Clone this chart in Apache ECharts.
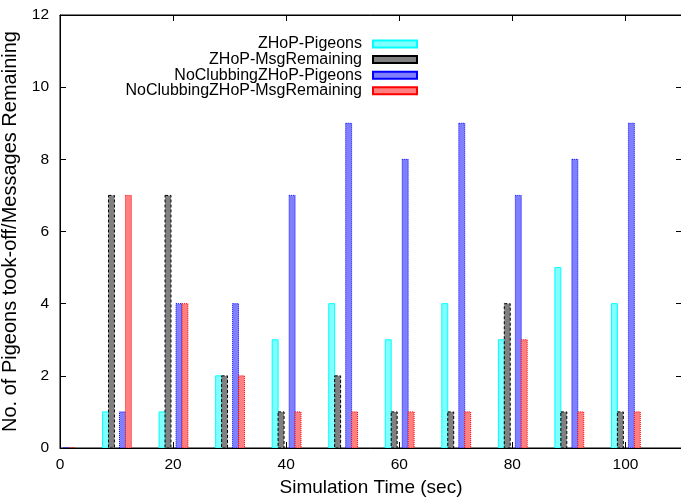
<!DOCTYPE html>
<html>
<head>
<meta charset="utf-8">
<script src="https://cdn.jsdelivr.net/npm/echarts@6/dist/echarts.min.js"></script>
<style>html,body{margin:0;padding:0;background:#fff}#c{width:681px;height:501px}</style>
</head>
<body>
<div id="c"></div>
<script>
// Data
var times = [0, 10, 20, 30, 40, 50, 60, 70, 80, 90, 100];
var zhopPigeons = [0, 1, 1, 2, 3, 4, 3, 4, 3, 5, 4];
var zhopMsgRemaining = [0, 7, 7, 2, 1, 2, 1, 1, 4, 1, 1];
var noClubPigeons = [0, 1, 4, 4, 7, 9, 8, 9, 7, 8, 9];
var noClubMsgRemaining = [0, 7, 4, 2, 1, 1, 1, 1, 3, 1, 1];
var seriesNames = ['ZHoP-Pigeons', 'ZHoP-MsgRemaining', 'NoClubbingZHoP-Pigeons', 'NoClubbingZHoP-MsgRemaining'];
var xTicks = [0, 20, 40, 60, 80, 100];
var yTicks = [0, 2, 4, 6, 8, 10, 12];

var FONT = 'Liberation Sans, Arial, sans-serif';
var styles = [
  {fill: '#80ffff', stroke: '#00ffff', dash: null, off: -1.95},
  {fill: '#808080', stroke: '#000000', dash: [3, 2], off: -0.9},
  {fill: '#8080ff', stroke: '#0000ff', dash: [1, 1], off: 1.05},
  {fill: '#ff8080', stroke: '#ff0000', dash: [1, 1], off: 2.1}
];
var barW = 1.05;
var allVals = [zhopPigeons, zhopMsgRemaining, noClubPigeons, noClubMsgRemaining];

function makeRender(st) {
  return function (params, api) {
    var x = api.value(0), v = api.value(1);
    var p0 = api.coord([x + st.off - barW / 2, v]);
    var p1 = api.coord([x + st.off + barW / 2, 0]);
    return {
      type: 'rect',
      shape: {x: p0[0], y: p0[1], width: p1[0] - p0[0], height: p1[1] - p0[1]},
      style: {fill: st.fill, stroke: st.stroke, lineWidth: 1, lineDash: st.dash}
    };
  };
}

var series = seriesNames.map(function (name, i) {
  var st = styles[i];
  return {
    type: 'custom',
    name: name,
    clip: true,
    xAxisIndex: 0,
    yAxisIndex: 0,
    renderItem: makeRender(st),
    itemStyle: {color: st.fill, borderColor: st.stroke, borderWidth: 1, borderType: st.dash ? (i === 1 ? 'dashed' : 'dotted') : 'solid'},
    encode: {x: 0, y: 1},
    data: times.map(function (t, k) { return [t, allVals[i][k]]; })
  };
});
// helper series so the mirror axes (top / right) are drawn
series.push({type: 'line', name: '_mirror', xAxisIndex: 1, yAxisIndex: 1, data: [], silent: true, showSymbol: false});

var legends = seriesNames.map(function (name, i) {
  return {
    data: [name],
    orient: 'vertical',
    right: 263,
    top: 36 + i * 15.6,
    align: 'right',
    icon: 'rect',
    itemWidth: 44,
    itemHeight: 7,
    padding: 0,
    selectedMode: false,
    textStyle: {fontFamily: FONT, fontSize: 16, color: '#000', padding: [0, 6, 0, 0]}
  };
});

function axisBase(extra) {
  var o = {
    type: 'value',
    gridIndex: 0,
    show: true,
    axisLine: {show: true, onZero: false, lineStyle: {color: '#000', width: 1}},
    axisTick: {show: true, inside: true, length: 6, lineStyle: {color: '#000'}},
    splitLine: {show: false}
  };
  for (var k in extra) o[k] = extra[k];
  return o;
}

var option = {
  animation: false,
  backgroundColor: '#fff',
  legend: legends,
  grid: {left: 60, right: -1, top: 15, bottom: 53, show: true, borderColor: '#000', borderWidth: 1,
    backgroundColor: 'transparent', containLabel: false, outerBoundsMode: 'none'},
  xAxis: [
    axisBase({
      min: 0, max: 110, interval: 20, position: 'bottom',
      name: 'Simulation Time (sec)', nameLocation: 'middle', nameGap: 30,
      nameTextStyle: {fontFamily: FONT, fontSize: 19, color: '#000'},
      axisLabel: {fontFamily: FONT, fontSize: 15.5, color: '#000', margin: 9, showMaxLabel: false,
        formatter: function (v) { return xTicks.indexOf(v) >= 0 ? String(v) : ''; }}
    }),
    axisBase({
      min: 0, max: 110, interval: 20, position: 'top',
      axisLabel: {show: false}
    })
  ],
  yAxis: [
    axisBase({
      min: 0, max: 12, interval: 2, position: 'left',
      name: 'No. of Pigeons took-off/Messages Remaining', nameLocation: 'middle', nameGap: 31,
      nameTextStyle: {fontFamily: FONT, fontSize: 20, color: '#000'},
      axisLabel: {fontFamily: FONT, fontSize: 15.5, color: '#000', margin: 11,
        formatter: function (v) { return yTicks.indexOf(v) >= 0 ? String(v) : ''; }}
    }),
    axisBase({
      min: 0, max: 12, interval: 2, position: 'right',
      axisLabel: {show: false}
    })
  ],
  series: series
};

var chart = echarts.init(document.getElementById('c'), null, {renderer: 'canvas'});
chart.setOption(option);
</script>
</body>
</html>
